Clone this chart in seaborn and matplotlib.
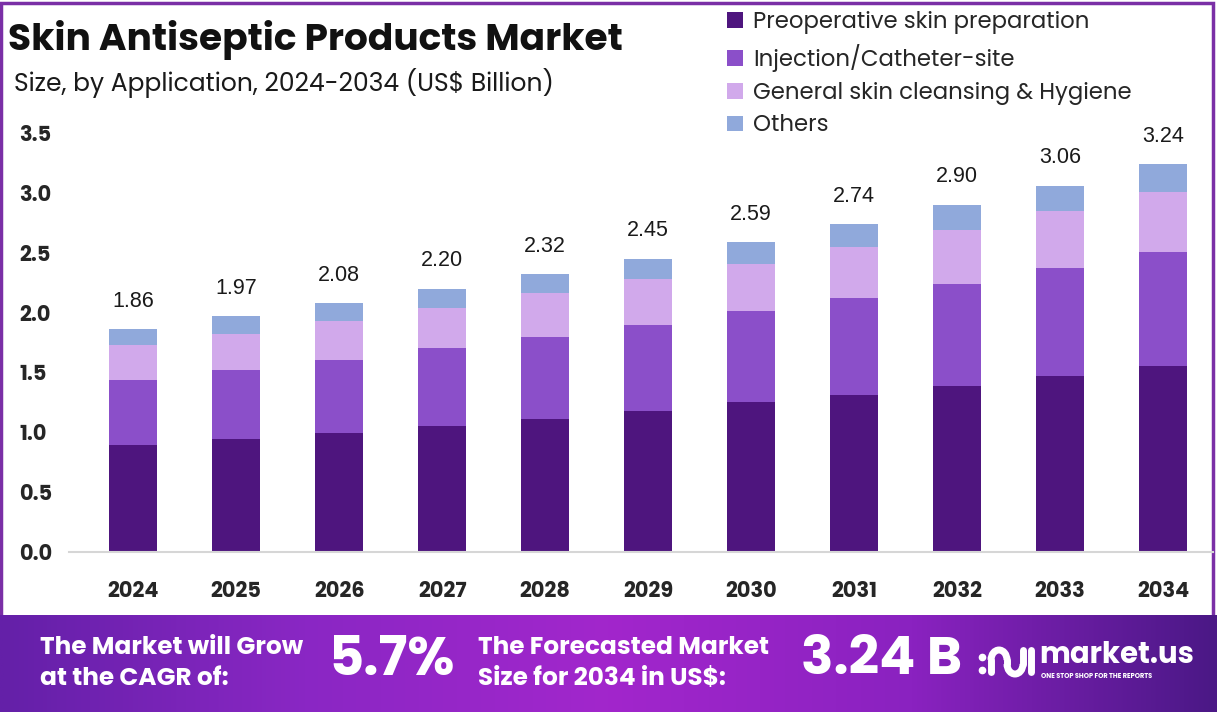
import numpy as np
import pandas as pd
import matplotlib
matplotlib.use("Agg")
import matplotlib.pyplot as plt
import seaborn as sns
from matplotlib.patches import Patch, Rectangle, Arc
from matplotlib.colors import LinearSegmentedColormap

# ---- data ----
years = ["2024", "2025", "2026", "2027", "2028", "2029", "2030", "2031", "2032", "2033", "2034"]
preoperative = [0.89, 0.94, 0.99, 1.05, 1.11, 1.18, 1.25, 1.31, 1.39, 1.47, 1.55]
injection = [0.55, 0.58, 0.61, 0.65, 0.69, 0.72, 0.76, 0.81, 0.85, 0.90, 0.96]
general = [0.29, 0.30, 0.33, 0.34, 0.36, 0.38, 0.40, 0.43, 0.45, 0.48, 0.50]
others = [0.13, 0.15, 0.15, 0.16, 0.16, 0.17, 0.18, 0.19, 0.21, 0.21, 0.23]
totals = [1.86, 1.97, 2.08, 2.20, 2.32, 2.45, 2.59, 2.74, 2.90, 3.06, 3.24]
series_names = ["Preoperative skin preparation", "Injection/Catheter-site",
                "General skin cleansing & Hygiene", "Others"]
colors = ["#4E157E", "#8B4FC9", "#D1A9EB", "#90A9DB"]
cagr_text = "5.7%"
forecast_text = "3.24 B"

sns.set_theme(style="white")
FAM = ["Poppins", "Lato", "DejaVu Sans"]
plt.rcParams["font.family"] = FAM

fig = plt.figure(figsize=(12.17, 7.12), dpi=100)
fig.patch.set_facecolor("white")

# outer purple border
fig.add_artist(Rectangle((0.001, 0.0), 0.996, 0.996, transform=fig.transFigure,
                         fill=False, edgecolor="#7A2FA6", linewidth=2.5, zorder=0))

ax = fig.add_axes([0.057, 0.2247, 0.940, 0.6053])

df = pd.DataFrame({"year": years, "p": preoperative, "i": injection,
                   "g": general, "o": others})
df["c1"] = df["p"]
df["c2"] = df["c1"] + df["i"]
df["c3"] = df["c2"] + df["g"]
df["c4"] = df["c3"] + df["o"]

for col, colr in zip(["c4", "c3", "c2", "c1"], colors[::-1]):
    sns.barplot(data=df, x="year", y=col, color=colr, width=0.47,
                saturation=1, ax=ax, edgecolor="none", linewidth=0)

for i, t in enumerate(totals):
    ax.text(i, df["c4"][i] + 0.145, f"{t:.2f}", ha="center", va="bottom",
            fontsize=15.5, color="#1a1a1a", family=["Liberation Sans", "DejaVu Sans"])

ax.set_xlim(-0.62, 10.49)
ax.set_ylim(0, 3.6)
ax.set_yticks([0, 0.5, 1.0, 1.5, 2.0, 2.5, 3.0, 3.5])
ax.set_yticklabels(["0.0", "0.5", "1.0", "1.5", "2.0", "2.5", "3.0", "3.5"],
                   fontsize=15, fontweight="bold", family=FAM)
ax.set_xticklabels(years, fontsize=15, fontweight="bold", family=FAM)
ax.tick_params(axis="x", length=0, pad=21)
ax.set_xlabel("")
ax.set_ylabel("")
for s in ["top", "right", "left"]:
    ax.spines[s].set_visible(False)
ax.spines["bottom"].set_color("#d6d6d6")
ax.spines["bottom"].set_linewidth(1.5)
ax.patch.set_alpha(0)
for lbl in ax.get_yticklabels():
    lbl.set_horizontalalignment("left")
ax.tick_params(axis="y", length=0, pad=36)

# title & subtitle
fig.text(8 / 1217, 1 - 40 / 712, "Skin Antiseptic Products Market", fontsize=27,
         fontweight="bold", va="center", ha="left", color="#111111")
fig.text(14 / 1217, 1 - 83 / 712, "Size, by Application, 2024-2034 (US$ Billion)",
         fontsize=18, va="center", ha="left", color="#1a1a1a")

# legend
handles = [Patch(facecolor=c, edgecolor="none") for c in colors]
fig.legend(handles, series_names, loc="upper left", bbox_to_anchor=(718 / 1217, 1 - 2 / 712),
           frameon=False, fontsize=16.4, handlelength=0.7, handleheight=0.7,
           handletextpad=0.45, labelspacing=0.43, borderaxespad=0)

# bottom banner
bax = fig.add_axes([0, 0, 1, 97 / 712])
cmap = LinearSegmentedColormap.from_list("ban", ["#6420A8", "#8A27C4", "#A226CC", "#8A22C0", "#4B1886"])
grad = np.linspace(0, 1, 512).reshape(1, -1)
bax.imshow(grad, aspect="auto", cmap=cmap, extent=[0, 1217, 0, 97])
bax.set_xlim(0, 1217)
bax.set_ylim(0, 97)
bax.axis("off")

def bt(x, y, s, size, **kw):
    bax.text(x, y, s, fontsize=size, color="white", fontweight="bold",
             va="center", ha="left", **kw)

bt(40, 48, "The Market will Grow\nat the CAGR of:", 17.8, linespacing=1.3)
bt(328, 50, cagr_text, 39)
bt(478, 48, "The Forecasted Market\nSize for 2034 in US$:", 17.8, linespacing=1.3)
bt(801, 50, forecast_text, 38.5)
# logo icon: dot, arches, bar
lw = 5
bax.plot([982], [55], "o", color="white", ms=4.5)
bax.plot([982], [42], "o", color="white", ms=4.5)
bax.add_patch(Arc((999, 52), 16, 20, theta1=0, theta2=180, color="white", lw=lw))
bax.plot([991, 991], [52, 40], color="white", lw=lw, solid_capstyle="round")
bax.add_patch(Arc((1015, 48), 16, 20, theta1=180, theta2=360, color="white", lw=lw))
bax.plot([1007, 1007], [48, 52], color="white", lw=lw, solid_capstyle="round")
bax.plot([1023, 1023], [48, 62], color="white", lw=lw, solid_capstyle="round")
bax.plot([1031, 1031], [40, 62], color="white", lw=lw, solid_capstyle="round")
bt(1039, 56, "market.us", 21)
bt(1041, 36, "ONE STOP SHOP FOR THE REPORTS", 4.8)

fig.savefig("out.png", dpi=100, facecolor="white")
